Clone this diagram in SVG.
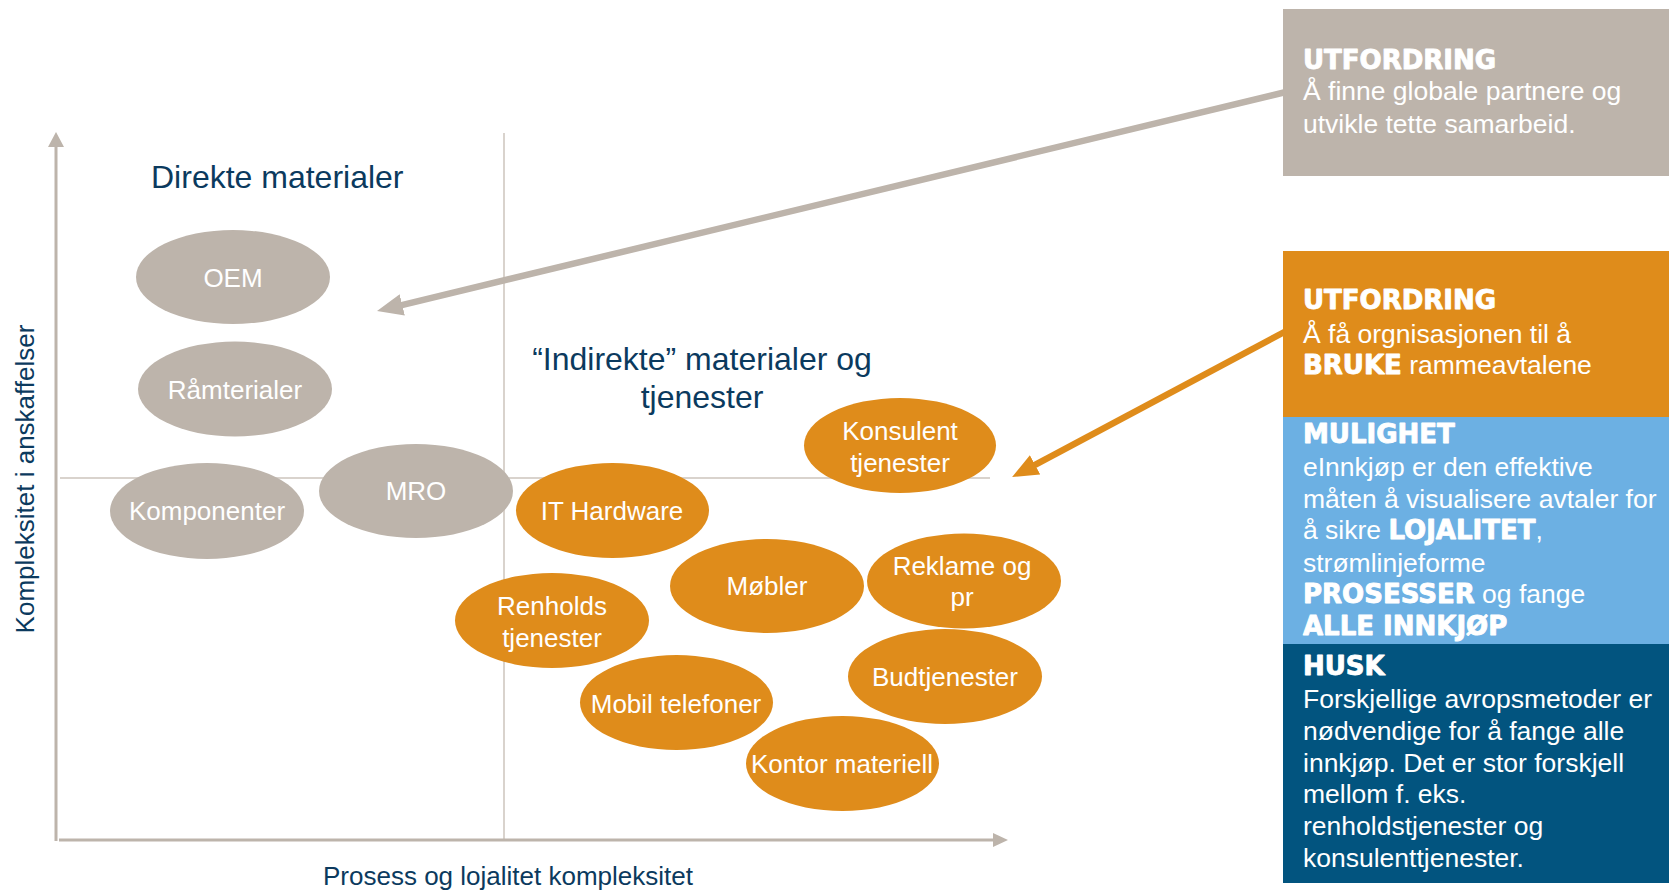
<svg xmlns="http://www.w3.org/2000/svg" width="1669" height="892" viewBox="0 0 1669 892">
<defs>
<style>
.ax{stroke:#BDB4AB;stroke-width:3;fill:none}
.mid{stroke:#D9D3CD;stroke-width:2;fill:none}
.g{fill:#BDB4AB}
.o{fill:#DF8C1B}
.lbl{font-family:"Liberation Sans",Arial,sans-serif;font-size:26px;fill:#FFFFFF;text-anchor:middle}
.ttl{font-family:"Liberation Sans",Arial,sans-serif;font-size:32px;fill:#0B3A5E}
.axl{font-family:"Liberation Sans",Arial,sans-serif;font-size:26px;fill:#0B3A5E;text-anchor:middle}
.bx{font-family:"Liberation Sans",Arial,sans-serif;font-size:26.5px;fill:#FFFFFF}
.b{font-family:"DejaVu Sans",sans-serif;font-weight:bold;font-size:26px;stroke:#FFFFFF;stroke-width:0.9;stroke-linejoin:round}
</style>
<marker id="hg" viewBox="0 0 26 22" markerWidth="26" markerHeight="22" refX="8" refY="11" orient="auto" markerUnits="userSpaceOnUse"><path d="M0,0 L26,11 L0,22 z" fill="#BDB4AB"/></marker>
<marker id="ho" viewBox="0 0 26 22" markerWidth="26" markerHeight="22" refX="8" refY="11" orient="auto" markerUnits="userSpaceOnUse"><path d="M0,0 L26,11 L0,22 z" fill="#DF8C1B"/></marker>
</defs>
<rect width="1669" height="892" fill="#FFFFFF"/>
<g id="axes">
<line class="mid" x1="504" y1="133" x2="504" y2="840"/>
<line class="mid" x1="60" y1="478" x2="990" y2="478"/>
<line class="ax" x1="56" y1="144" x2="56" y2="841"/>
<polygon points="56,132 48,147 64,147" fill="#BDB4AB"/>
<line class="ax" x1="59" y1="840" x2="994" y2="840"/>
<polygon points="1008,840 993,833 993,847" fill="#BDB4AB"/>
<text class="axl" transform="translate(34,479) rotate(-90)">Kompleksitet i anskaffelser</text>
<text class="axl" x="508" y="885">Prosess og lojalitet kompleksitet</text>
</g>
<g id="titles">
<text class="ttl" x="151" y="188" font-size="31.5">Direkte materialer</text>
<text class="ttl" x="702" y="370" text-anchor="middle">“Indirekte” materialer og</text>
<text class="ttl" x="702" y="408" text-anchor="middle">tjenester</text>
</g>
<g id="oem"><ellipse class="g" cx="233" cy="277" rx="97" ry="47"/><text class="lbl" x="233" y="287">OEM</text></g>
<g id="ramaterialer"><ellipse class="g" cx="235" cy="389" rx="97" ry="47.5"/><text class="lbl" x="235" y="399">Råmterialer</text></g>
<g id="komponenter"><ellipse class="g" cx="207" cy="511" rx="97" ry="48"/><text class="lbl" x="207" y="520">Komponenter</text></g>
<g id="mro"><ellipse class="g" cx="416" cy="491" rx="97" ry="47"/><text class="lbl" x="416" y="500">MRO</text></g>
<g id="konsulent"><ellipse class="o" cx="900" cy="445.5" rx="96" ry="47.5"/><text class="lbl" x="900" y="440">Konsulent</text><text class="lbl" x="900" y="472">tjenester</text></g>
<g id="ithardware"><ellipse class="o" cx="612.5" cy="510.5" rx="96.5" ry="47.5"/><text class="lbl" x="612" y="520">IT Hardware</text></g>
<g id="mobler"><ellipse class="o" cx="767" cy="586" rx="97" ry="47"/><text class="lbl" x="767" y="595">Møbler</text></g>
<g id="reklame"><ellipse class="o" cx="964" cy="581" rx="97" ry="47.5"/><text class="lbl" x="962" y="575">Reklame og</text><text class="lbl" x="962" y="606">pr</text></g>
<g id="budtjenester"><ellipse class="o" cx="945" cy="676.5" rx="97" ry="47.5"/><text class="lbl" x="945" y="686">Budtjenester</text></g>
<g id="renholds"><ellipse class="o" cx="552" cy="620.5" rx="97" ry="47.5"/><text class="lbl" x="552" y="615">Renholds</text><text class="lbl" x="552" y="647">tjenester</text></g>
<g id="mobil"><ellipse class="o" cx="676.5" cy="702.5" rx="96.5" ry="47.5"/><text class="lbl" x="676" y="713">Mobil telefoner</text></g>
<g id="kontor"><ellipse class="o" cx="842.5" cy="763.5" rx="96.5" ry="47.5"/><text class="lbl" x="842" y="773">Kontor materiell</text></g>
<g id="connectors">
<line x1="1290" y1="91" x2="394.5" y2="306.8" stroke="#BDB4AB" stroke-width="6.5" marker-end="url(#hg)"/>
<line x1="1290" y1="329" x2="1028" y2="468.6" stroke="#DF8C1B" stroke-width="6.5" marker-end="url(#ho)"/>
</g>
<g id="box-utfordring1">
<rect x="1283" y="9" width="386" height="167" fill="#BDB4AB"/>
<text class="bx" x="1303" y="69"><tspan class="b">UTFORDRING</tspan></text>
<text class="bx" x="1303" y="100">Å finne globale partnere og</text>
<text class="bx" x="1303" y="133">utvikle tette samarbeid.</text>
</g>
<g id="box-utfordring2">
<rect x="1283" y="251" width="386" height="166" fill="#DF8C1B"/>
<text class="bx" x="1303" y="309"><tspan class="b">UTFORDRING</tspan></text>
<text class="bx" x="1303" y="343">Å få orgnisasjonen til å</text>
<text class="bx" x="1303" y="374"><tspan class="b">BRUKE</tspan> rammeavtalene</text>
</g>
<g id="box-mulighet">
<rect x="1283" y="417" width="386" height="227" fill="#6CB0E3"/>
<text class="bx" x="1303" y="443"><tspan class="b">MULIGHET</tspan></text>
<text class="bx" x="1303" y="476">eInnkjøp er den effektive</text>
<text class="bx" x="1303" y="508">måten å visualisere avtaler for</text>
<text class="bx" x="1303" y="539">å sikre <tspan class="b" font-size="24.5">LOJALITET</tspan>,</text>
<text class="bx" x="1303" y="572">strømlinjeforme</text>
<text class="bx" x="1303" y="603"><tspan class="b">PROSESSER</tspan> og fange</text>
<text class="bx" x="1303" y="635"><tspan class="b">ALLE INNKJØP</tspan></text>
</g>
<g id="box-husk">
<rect x="1283" y="644" width="386" height="239" fill="#02547F"/>
<text class="bx" x="1303" y="675"><tspan class="b">HUSK</tspan></text>
<text class="bx" x="1303" y="708">Forskjellige avropsmetoder er</text>
<text class="bx" x="1303" y="740">nødvendige for å fange alle</text>
<text class="bx" x="1303" y="772">innkjøp. Det er stor forskjell</text>
<text class="bx" x="1303" y="803">mellom f. eks.</text>
<text class="bx" x="1303" y="835">renholdstjenester og</text>
<text class="bx" x="1303" y="867">konsulenttjenester.</text>
</g>
</svg>
